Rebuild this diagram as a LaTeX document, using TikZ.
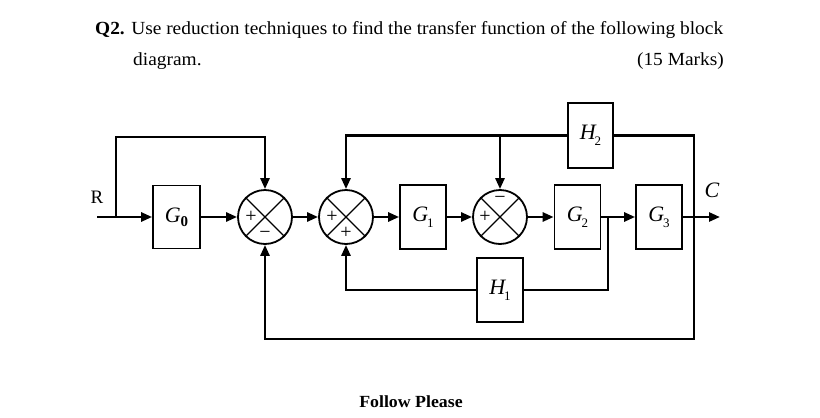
\documentclass[tikz,border=0pt]{standalone}
\usepackage{fontspec}
\setmainfont{Liberation Serif}
\usetikzlibrary{arrows.meta,calc}
\newsavebox\lineA
\newlength\lenA
\begin{document}
\sbox\lineA{\fontsize{18.5}{20}\selectfont\textbf{Q2.} Use reduction techniques to find the transfer function of the following block}%
\setlength\lenA{\wd\lineA}%
\pgfmathsetmacro\sx{628/\lenA}%
\begin{tikzpicture}[x=1pt,y=-1pt,
  conn/.style={line width=2.6pt},
  arr/.style={conn,-{Triangle[length=11pt,width=9pt]}},
  blk/.style={draw,line width=1.7pt,minimum width=46pt,minimum height=64pt,inner sep=0pt,
     font=\fontsize{22}{24}\selectfont\itshape},
  sub/.style={},
  sumj/.style={draw,circle,line width=1.8pt,minimum size=54pt,inner sep=0pt},
  sgn/.style={font=\fontsize{20}{20}\selectfont,inner sep=0pt},
  hdr/.style={anchor=base west,inner sep=0pt,font=\fontsize{18.5}{20}\selectfont}]
\useasboundingbox (0,0) rectangle (820,418);
\fill[white] (0,0) rectangle (820,418);
% header text
\node[hdr] (q1) at (95,34) {\scalebox{\sx}[1]{\usebox\lineA}};
\node[hdr] (q2) at (133,65) {\scalebox{\sx}[1]{diagram.}};
\node[hdr,anchor=base east] (q3) at (724,65) {\scalebox{\sx}[1]{(15 Marks)}};
\node[inner sep=0pt,anchor=base,font=\fontsize{17}{20}\selectfont\bfseries] (fp) at (411,407) {\scalebox{\sx}[1]{Follow Please}};
% blocks
\newcommand\subsc[1]{\raisebox{-0.28em}{\fontsize{13}{13}\selectfont\upshape #1}}
\node[blk,minimum width=47pt,minimum height=63pt] (G0) at (176.5,217) {G\raisebox{-0.2em}{\fontsize{15}{15}\selectfont\upshape\bfseries 0}};
\node[blk] (G1) at (423,217) {G\kern-1pt\subsc{1}};
\node[blk] (G2) at (577.5,217) {G\kern-1pt\subsc{2}};
\node[blk] (G3) at (659,217) {G\kern-1pt\subsc{3}};
\node[blk,minimum width=45pt,minimum height=65pt] (H2) at (590.5,135.5) {H\kern-1pt\subsc{2}};
\node[blk] (H1) at (500,290) {H\kern-1pt\subsc{1}};
% summing junctions
\node[sumj] (s1) at (265,217) {};
\node[sumj] (s2) at (346,217) {};
\node[sumj] (s3) at (500,217) {};
\foreach \s in {s1,s2,s3}{
  \draw[line width=1.3pt] (\s.north east) -- (\s.south west);
  \draw[line width=1.3pt] (\s.north west) -- (\s.south east);
}
\node[sgn] (p1) at (251,217) {+};
\node[sgn] (m1) at (265,235) {\textminus};
\node[sgn] (p2) at (332,217) {+};
\node[sgn] (p3) at (346,233) {+};
\node[sgn] (m3) at (500,200) {\textminus};
\node[sgn] (p4) at (485,217) {+};
% labels
\node[font=\fontsize{19}{20}\selectfont,inner sep=0pt] (R) at (97,197) {R};
\node[font=\fontsize{22}{22}\selectfont\itshape,inner sep=0pt] (C) at (712,190) {C};
% coordinates
\coordinate (rin) at (97,217);
\coordinate (rb) at (116,217);
\coordinate (t1) at (116,137);
\coordinate (j2) at (608,217);
\coordinate (br) at (694,339);
\coordinate (out) at (720,217);
% main path
\draw[arr] (rin) -- (G0.west);
\draw[arr] (G0.east) -- (s1.west);
\draw[arr] (s1.east) -- (s2.west);
\draw[arr] (s2.east) -- (G1.west);
\draw[arr] (G1.east) -- (s3.west);
\draw[arr] (s3.east) -- (G2.west);
\draw[arr] (G2.east) -- (G3.west);
\draw[arr] (G3.east) -- (out);
% feedforward from R
\draw[arr] (rb) -- (t1) -| (s1.north);
% H2 loop
\draw[arr] (H2.west) -| (s2.north);
\draw[arr] (s3.north |- H2.west) -- (s3.north);
\draw[arr] (H2.east) -| (br) -| (s1.south);
% H1 loop
\draw[conn] (j2) |- (H1.east);
\draw[arr] (H1.west) -| (s2.south);
\end{tikzpicture}
\end{document}
